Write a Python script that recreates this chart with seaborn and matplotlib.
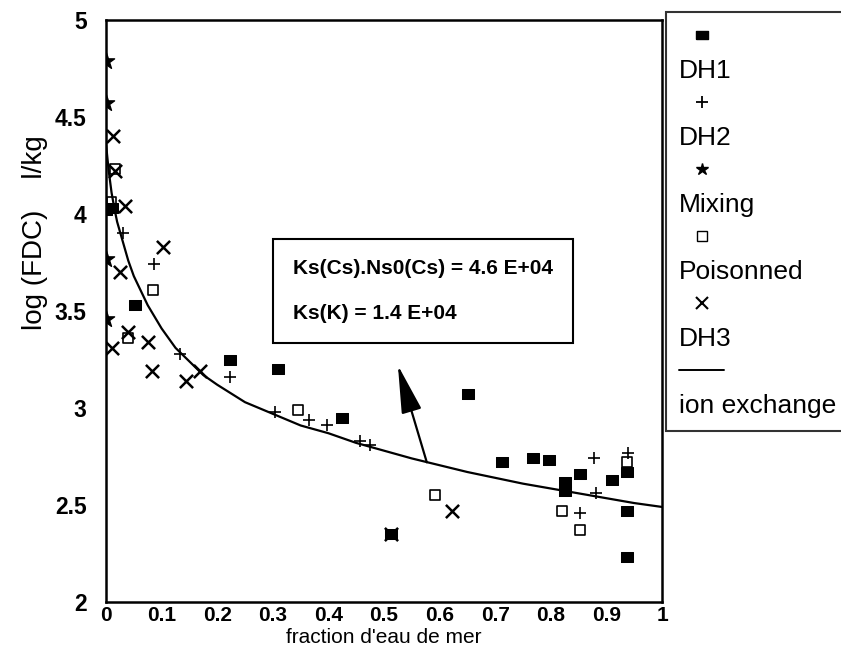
import matplotlib
matplotlib.use("Agg")
import matplotlib.pyplot as plt
from matplotlib.lines import Line2D
import seaborn as sns

# ---- data ----
dh1_x = [0.0, 0.01, 0.052, 0.223, 0.309, 0.425, 0.513, 0.651, 0.712, 0.768, 0.797, 0.826, 0.826, 0.853, 0.91, 0.937, 0.937, 0.937]
dh1_y = [4.02, 4.03, 3.53, 3.25, 3.20, 2.95, 2.35, 3.07, 2.72, 2.74, 2.73, 2.62, 2.57, 2.66, 2.63, 2.67, 2.47, 2.23]

dh2_x = [0.0, 0.03, 0.087, 0.133, 0.223, 0.304, 0.365, 0.397, 0.457, 0.475, 0.853, 0.877, 0.881, 0.939]
dh2_y = [4.05, 3.90, 3.74, 3.28, 3.16, 2.98, 2.94, 2.91, 2.83, 2.81, 2.46, 2.74, 2.56, 2.77]

mix_x = [0.0, 0.0, 0.0, 0.0]
mix_y = [4.79, 4.57, 3.77, 3.46]

poi_x = [0.01, 0.016, 0.04, 0.085, 0.345, 0.592, 0.82, 0.853, 0.937]
poi_y = [4.06, 4.23, 3.36, 3.61, 2.99, 2.55, 2.47, 2.37, 2.72]

dh3_x = [0.013, 0.016, 0.034, 0.025, 0.103, 0.011, 0.040, 0.076, 0.083, 0.144, 0.169, 0.513, 0.622]
dh3_y = [4.40, 4.22, 4.04, 3.70, 3.83, 3.31, 3.39, 3.34, 3.19, 3.14, 3.19, 2.35, 2.47]

ion_x = [0.0, 0.005, 0.01, 0.015, 0.02, 0.03, 0.04, 0.05, 0.06, 0.075, 0.1, 0.125, 0.15, 0.175,
         0.2, 0.25, 0.3, 0.35, 0.4, 0.45, 0.5, 0.55, 0.6, 0.65, 0.7, 0.75, 0.8, 0.85, 0.9, 0.95, 1.0]
ion_y = [4.36, 4.22, 4.11, 4.03, 3.96, 3.86, 3.76, 3.68, 3.62, 3.53, 3.41, 3.31, 3.24, 3.17,
         3.12, 3.03, 2.97, 2.91, 2.87, 2.82, 2.78, 2.74, 2.705, 2.67, 2.64, 2.61, 2.585, 2.56, 2.535, 2.51, 2.49]

x_ticks = [0, 0.1, 0.2, 0.3, 0.4, 0.5, 0.6, 0.7, 0.8, 0.9, 1]
x_ticklabels = ["0", "0.1", "0.2", "0.3", "0.4", "0.5", "0.6", "0.7", "0.8", "0.9", "1"]
y_ticks = [2, 2.5, 3, 3.5, 4, 4.5, 5]
y_ticklabels = ["2", "2.5", "3", "3.5", "4", "4.5", "5"]

legend_labels = ["DH1", "DH2", "Mixing", "Poisonned", "DH3", "ion exchange"]
box_lines = ["Ks(Cs).Ns0(Cs) = 4.6 E+04", "Ks(K) = 1.4 E+04"]

# ---- figure ----
sns.set_theme(style="white")
plt.rcParams["font.family"] = ["Liberation Sans", "DejaVu Sans"]

fig = plt.figure(figsize=(8.41, 6.66), dpi=100)
ax = fig.add_axes([106 / 841, 64 / 666, 556 / 841, 582 / 666])

k = "black"
rect = [(-1.3, -1), (1.3, -1), (1.3, 1), (-1.3, 1), (-1.3, -1)]

sns.lineplot(x=ion_x, y=ion_y, ax=ax, color=k, lw=1.6, zorder=2)
sns.scatterplot(x=dh1_x, y=dh1_y, ax=ax, marker=rect, s=85, color=k, edgecolor=k, zorder=3)
sns.scatterplot(x=dh2_x, y=dh2_y, ax=ax, marker="+", s=80, color=k, linewidth=1.2, zorder=3)
sns.scatterplot(x=mix_x, y=mix_y, ax=ax, marker="*", s=150, color=k, edgecolor=k, zorder=3)
sns.scatterplot(x=poi_x, y=poi_y, ax=ax, marker="s", s=50, facecolor="none", edgecolor=k, linewidth=1.2, zorder=3)
sns.scatterplot(x=dh3_x, y=dh3_y, ax=ax, marker="x", s=90, color=k, linewidth=1.8, zorder=3)

ax.set_xlim(0, 1)
ax.set_ylim(2, 5)
ax.set_xticks(x_ticks)
ax.set_xticklabels(x_ticklabels)
ax.set_yticks(y_ticks)
ax.set_yticklabels(y_ticklabels)
ax.tick_params(axis="x", direction="in", length=5, width=1.2, colors=k, labelsize=15, pad=3)
ax.tick_params(axis="y", direction="inout", length=8, width=1.2, colors=k, labelsize=16.5, pad=10)
for lab in ax.get_xticklabels() + ax.get_yticklabels():
    lab.set_fontweight("bold")
for sp in ax.spines.values():
    sp.set_visible(True)
    sp.set_color(k)
    sp.set_linewidth(1.8)

ax.set_xlabel("fraction d'eau de mer", fontsize=15, color=k, labelpad=2)
ax.set_ylabel("log (FDC)    l/kg", fontsize=20, color=k)
ax.yaxis.set_label_coords(-0.104, 0.635)

# annotation box
ax.text(0.570, 3.603, box_lines[0] + "\n" + box_lines[1], ha="center", va="center",
        fontsize=15, fontweight="bold", color=k, linespacing=2.7,
        multialignment="left",
        bbox=dict(boxstyle="square,pad=0.95", fc="white", ec=k, lw=1.5), zorder=5)

ax.annotate("", xy=(0.525, 3.22), xytext=(0.577, 2.72),
            arrowprops=dict(arrowstyle="-|>,head_length=1.5,head_width=0.32",
                            mutation_scale=20, lw=1.6, color=k, shrinkA=0, shrinkB=0), zorder=4)

# legend: marker row then label row
blank = Line2D([], [], linestyle="none", marker=None)
handles = [
    Line2D([], [], linestyle="none", marker=rect, markersize=8, color=k),
    Line2D([], [], linestyle="none", marker="+", markersize=9, color=k, markeredgewidth=1.3),
    Line2D([], [], linestyle="none", marker="*", markersize=9, color=k),
    Line2D([], [], linestyle="none", marker="s", markersize=7, markerfacecolor="none", markeredgecolor=k),
    Line2D([], [], linestyle="none", marker="x", markersize=9, color=k, markeredgewidth=1.5),
    Line2D([], [], color=k, lw=1.4),
]
leg_h, leg_l = [], []
for h, l in zip(handles, legend_labels):
    leg_h += [h, blank]
    leg_l += ["", l]

hl = 1.7
leg = fig.legend(leg_h, leg_l, loc="upper left", bbox_to_anchor=(666 / 841, 1 - 12 / 666),
                 fontsize=19, frameon=True, fancybox=False, edgecolor=k,
                 handlelength=hl, handletextpad=-hl, labelspacing=0.36,
                 borderpad=0.5, borderaxespad=0.0)
leg.get_frame().set_linewidth(1.5)
for t in leg.get_texts():
    t.set_color(k)

fig.savefig("out.png", dpi=100, facecolor="white")
